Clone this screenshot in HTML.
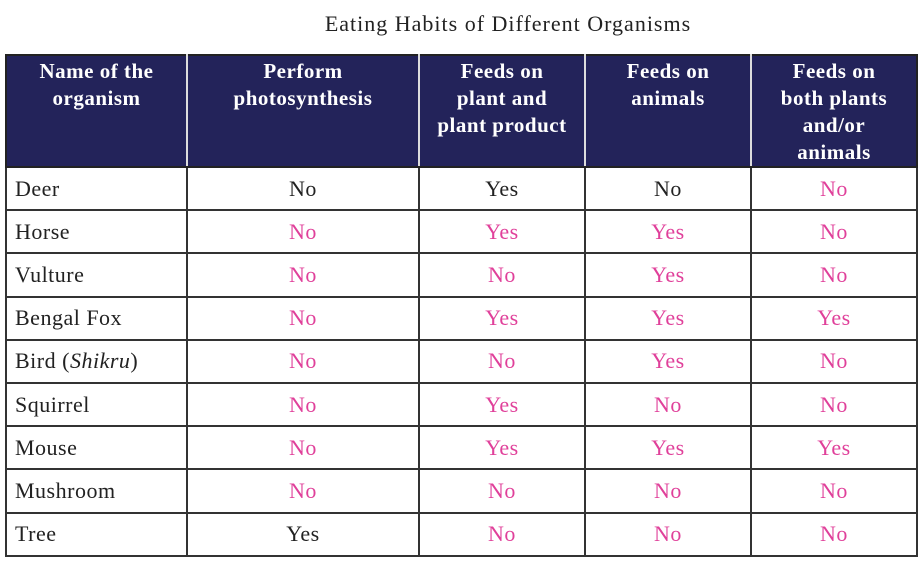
<!DOCTYPE html>
<html><head><meta charset="utf-8"><style>
body{margin:0;width:919px;height:561px;background:#fff;overflow:hidden;font-family:"Liberation Serif",serif;}
#title{position:absolute;left:0;width:1016px;top:11px;text-align:center;font-size:22px;letter-spacing:1px;color:#222;}
table{position:absolute;left:5px;top:54px;border-collapse:collapse;table-layout:fixed;width:911px;}
th{background:#23235a;color:#fff;font-weight:bold;font-size:21px;line-height:27px;vertical-align:top;padding:2px 2px 0;height:105px;border:2px solid #222;border-left:2px solid #ddd;border-right:2px solid #ddd;letter-spacing:0.5px;}
th:first-child{border-left:2px solid #222}th:last-child{border-right:2px solid #222}
td{border:2px solid #333;height:41.2px;font-size:22px;text-align:center;color:#222;padding:0;letter-spacing:0.5px;}
td:first-child{text-align:left;padding-left:8px;}
.p{color:#e0409a;}
</style></head><body>
<div id="title">Eating Habits of Different Organisms</div>
<table>
<colgroup><col style="width:181px"><col style="width:232px"><col style="width:166px"><col style="width:166px"><col style="width:166px"></colgroup>
<tr><th>Name of the<br>organism</th><th>Perform<br>photosynthesis</th><th>Feeds on<br>plant and<br>plant product</th><th>Feeds on<br>animals</th><th>Feeds on<br>both plants<br>and/or<br>animals</th></tr>
<tr><td>Deer</td><td>No</td><td>Yes</td><td>No</td><td class="p">No</td></tr>
<tr><td>Horse</td><td class="p">No</td><td class="p">Yes</td><td class="p">Yes</td><td class="p">No</td></tr>
<tr><td>Vulture</td><td class="p">No</td><td class="p">No</td><td class="p">Yes</td><td class="p">No</td></tr>
<tr><td>Bengal Fox</td><td class="p">No</td><td class="p">Yes</td><td class="p">Yes</td><td class="p">Yes</td></tr>
<tr><td>Bird (<i>Shikru</i>)</td><td class="p">No</td><td class="p">No</td><td class="p">Yes</td><td class="p">No</td></tr>
<tr><td>Squirrel</td><td class="p">No</td><td class="p">Yes</td><td class="p">No</td><td class="p">No</td></tr>
<tr><td>Mouse</td><td class="p">No</td><td class="p">Yes</td><td class="p">Yes</td><td class="p">Yes</td></tr>
<tr><td>Mushroom</td><td class="p">No</td><td class="p">No</td><td class="p">No</td><td class="p">No</td></tr>
<tr><td>Tree</td><td>Yes</td><td class="p">No</td><td class="p">No</td><td class="p">No</td></tr>
</table>
</body></html>
